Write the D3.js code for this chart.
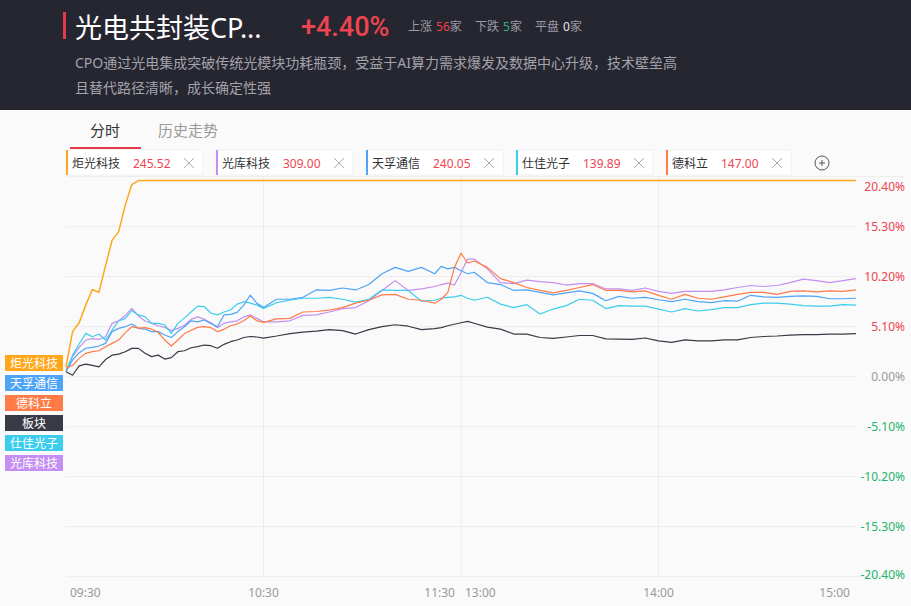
<!DOCTYPE html>
<html>
<head>
<meta charset="utf-8">
<script src="https://cdn.jsdelivr.net/npm/d3@7"></script>
<style>
  body { margin: 0; background: #fafafa; }
  svg { display: block; font-family: "Noto Sans", "Noto Sans CJK SC", sans-serif; }
</style>
</head>
<body>
<div id="chart"></div>
<script>
// trading minutes from 09:30 (0) to 15:00 (240), 11:30 and 13:00 share 120
var minutes = [0, 2, 4, 6, 8, 10, 12, 14, 16, 18, 20, 22, 24, 26, 28, 30, 32, 34, 36, 38, 40,
  42, 44, 46, 48, 50, 52, 54, 56, 58, 60,
  64, 68, 72, 76, 80, 84, 88, 92, 96, 100, 104, 108, 112,
  114, 116, 118, 120, 122, 124,
  128, 132, 136, 140, 144, 148, 152, 156, 160, 164, 168, 172, 176, 180,
  184, 188, 192, 196, 200, 204, 208, 212, 216, 220, 224, 228, 232, 236, 240];

// % change per series
var jgkj = [1.0, 4.6, 5.5, 7.3, 8.9, 8.6, 11.3, 13.9, 14.8, 17.5, 19.6,
  20, 20, 20, 20, 20, 20, 20, 20, 20, 20,
  20, 20, 20, 20, 20, 20, 20, 20, 20, 20,
  20, 20, 20, 20, 20, 20, 20, 20, 20, 20, 20, 20, 20,
  20, 20, 20, 20, 20, 20,
  20, 20, 20, 20, 20, 20, 20, 20, 20, 20, 20, 20, 20, 20,
  20, 20, 20, 20, 20, 20, 20, 20, 20, 20, 20, 20, 20, 20, 20];
var gkkj = [0.5, 2.04, 3.0, 3.74, 3.88, 3.8, 4.08, 5.44, 5.7, 6.22, 6.97,
  6.2, 5.68, 5.44, 5.2, 5.03, 4.7, 4.93, 5.25, 5.85, 6.1,
  5.85, 5.5, 5.0, 5.44, 5.6, 5.7, 6.1, 6.3, 5.95, 5.6,
  5.6, 5.7, 6.25, 6.3, 6.6, 6.95, 7.05, 7.75, 8.8, 9.8, 8.8, 8.95, 9.2,
  9.4, 9.55, 9.35, 10.6, 12.0, 12.0,
  11.0, 9.6, 9.5, 9.85, 9.7, 9.6, 9.35, 9.5, 9.5, 8.95, 8.95, 8.8, 9.05, 8.7,
  8.5, 8.7, 8.7, 8.7, 8.85, 9.1, 9.3, 9.2, 9.3, 9.6, 9.95, 9.8, 9.6, 9.8, 10.0];
var tftx = [0.5, 1.7, 2.45, 2.9, 3.0, 3.13, 3.4, 4.6, 4.93, 5.1, 5.37,
  4.93, 4.86, 4.6, 4.6, 4.25, 4.0, 4.6, 5.1, 5.7, 5.6,
  5.78, 5.44, 5.1, 6.3, 6.36, 6.56, 7.3, 8.33, 7.48, 7.07,
  7.9, 7.9, 8.1, 8.85, 8.8, 9.05, 8.85, 9.4, 10.5, 11.15, 10.75, 11.15, 10.5,
  11.25, 11.0, 11.15, 10.8, 10.5, 10.65,
  9.6, 9.4, 8.8, 8.85, 8.6, 8.35, 8.55, 8.75, 8.5, 7.75, 8.2, 8.0, 8.1, 7.85,
  7.65, 7.9, 7.65, 7.55, 7.75, 7.7, 8.3, 8.15, 8.1, 8.2, 8.25, 8.2, 7.95, 7.95, 8.0];
var sjgz = [0.6, 2.2, 3.33, 4.42, 4.08, 4.35, 3.74, 4.76, 5.68, 5.95, 6.73,
  6.3, 6.12, 5.44, 5.44, 5.27, 4.42, 5.44, 6.0, 6.6, 7.2,
  7.14, 6.5, 6.3, 6.6, 6.8, 7.4, 7.65, 7.5, 7.3, 6.97,
  7.55, 7.8, 8.0, 8.0, 8.1, 7.9, 7.6, 7.9, 8.85, 8.8, 8.8, 7.7, 7.8,
  8.0, 8.1, 8.15, 8.3, 8.0, 7.8,
  8.1, 7.4, 7.05, 7.35, 6.4, 6.9, 7.25, 7.9, 7.8, 6.95, 7.25, 7.2, 7.2, 6.9,
  6.6, 6.95, 6.7, 6.85, 7.05, 7.05, 7.35, 7.5, 7.5, 7.4, 7.25, 7.2, 7.2, 7.35, 7.3];
var dkl = [0.85, 1.16, 1.87, 2.38, 2.55, 2.65, 3.06, 3.4, 3.74, 4.5, 5.1,
  4.96, 5.0, 4.86, 4.52, 3.74, 3.13, 3.74, 4.4, 4.73, 5.03,
  5.1, 5.0, 4.6, 4.83, 5.2, 5.37, 5.7, 6.2, 5.7, 5.54,
  5.9, 5.95, 6.6, 6.65, 6.8, 7.05, 7.5, 7.8, 8.35, 8.4, 7.9, 7.8, 7.5,
  7.9, 8.6, 11.15, 12.6, 11.6, 11.8,
  11.15, 10.0, 9.6, 9.1, 8.8, 8.55, 8.8, 9.1, 9.4, 8.8, 8.8, 8.65, 8.75, 8.3,
  7.9, 8.4, 8.0, 7.9, 8.15, 8.4, 8.6, 8.6, 8.4, 8.7, 8.75, 8.65, 8.75, 8.7, 8.85];
var bankuai = [0.5, 0.15, 1.1, 1.29, 1.15, 1.0, 1.75, 2.2, 2.3, 2.55, 2.89,
  2.89, 2.4, 2.05, 2.2, 1.8, 1.95, 2.55, 2.65, 2.95, 3.06,
  3.23, 3.16, 2.9, 3.3, 3.57, 3.74, 4.0, 4.1, 4.05, 3.94,
  4.15, 4.4, 4.55, 4.65, 4.8, 4.7, 4.35, 4.8, 5.1, 5.3, 5.15, 4.8, 4.9,
  5.0, 5.2, 5.35, 5.5, 5.65, 5.45,
  5.05, 4.85, 4.35, 4.35, 4.0, 3.9, 4.05, 4.2, 4.2, 3.85, 3.84, 3.8, 3.95, 3.65,
  3.5, 3.75, 3.65, 3.65, 3.75, 3.75, 4.0, 4.1, 4.15, 4.25, 4.3, 4.3, 4.35, 4.35, 4.4];

var stockNames = ["炬光科技", "光库科技", "天孚通信", "仕佳光子", "德科立"];
var stockPrices = ["245.52", "309.00", "240.05", "139.89", "147.00"];
var sideNames = ["炬光科技", "天孚通信", "德科立", "板块", "仕佳光子", "光库科技"];
var yTicks = [20.4, 15.3, 10.2, 5.1, 0, -5.1, -10.2, -15.3, -20.4];
var xTickMinutes = [0, 60, 120, 120, 180, 240];
var xTickLabels = ["09:30", "10:30", "11:30", "13:00", "14:00", "15:00"];
var statLabels = ["上涨", "下跌", "平盘"];
var statCounts = ["56", "5", "0"];

var colors = {
  "炬光科技": "#ffa61a", "光库科技": "#c48ef2", "天孚通信": "#4ea4f6",
  "仕佳光子": "#3dcdec", "德科立": "#ff7b48", "板块": "#383b46"
};
var seriesValues = {
  "炬光科技": jgkj, "光库科技": gkkj, "天孚通信": tftx,
  "仕佳光子": sjgz, "德科立": dkl, "板块": bankuai
};
var drawOrder = ["炬光科技", "光库科技", "天孚通信", "仕佳光子", "德科立", "板块"];

var width = 911, height = 606;
var red = "#ee4450", green = "#1db46c";

var svg = d3.select("#chart").append("svg")
  .attr("width", width)
  .attr("height", height);

// header
svg.append("rect").attr("width", width).attr("height", 110).attr("fill", "#262630");
svg.append("rect").attr("x", 63).attr("y", 12).attr("width", 3).attr("height", 27).attr("fill", "#e8394a");
svg.append("text").attr("x", 75).attr("y", 27).attr("dominant-baseline", "central")
  .attr("fill", "#fff").attr("font-size", 27).text("光电共封装CP...");
svg.append("text").attr("x", 301).attr("y", 27).attr("dominant-baseline", "central")
  .attr("fill", red).attr("font-size", 27).attr("font-family", "Roboto").attr("font-weight", 500)
  .text("+4.40%");

var statColors = ["#f0404a", "#2bb673", "#e6e6ea"];
var sx = 408;
statLabels.forEach(function(lab, i) {
  var t = svg.append("text").attr("x", sx).attr("y", 26).attr("dominant-baseline", "central")
    .attr("font-size", 12).attr("fill", "#9a9aa4");
  t.append("tspan").text(lab);
  t.append("tspan").attr("dx", 4).attr("fill", statColors[i]).text(statCounts[i]);
  t.append("tspan").text("家");
  sx += 28 + statCounts[i].length * 7 + 12 + 13;
});

svg.append("text").attr("x", 75).attr("y", 62).attr("dominant-baseline", "central")
  .attr("font-size", 14).attr("fill", "#a3a3ac")
  .text("CPO通过光电集成突破传统光模块功耗瓶颈，受益于AI算力需求爆发及数据中心升级，技术壁垒高");
svg.append("text").attr("x", 75).attr("y", 87).attr("dominant-baseline", "central")
  .attr("font-size", 14).attr("fill", "#a3a3ac")
  .text("且替代路径清晰，成长确定性强");

// tabs
svg.append("text").attr("x", 105).attr("y", 130).attr("text-anchor", "middle").attr("dominant-baseline", "central")
  .attr("font-size", 15).attr("fill", "#333").text("分时");
svg.append("text").attr("x", 188).attr("y", 130).attr("text-anchor", "middle").attr("dominant-baseline", "central")
  .attr("font-size", 15).attr("fill", "#999").text("历史走势");
svg.append("rect").attr("x", 70).attr("y", 147).attr("width", 71).attr("height", 2).attr("fill", "#e8394a");

// legend chips
var lx = 66;
stockNames.forEach(function(name, i) {
  var w = name.length * 12 + 89;
  var g = svg.append("g").attr("transform", "translate(" + lx + ",150)");
  g.append("rect").attr("width", w).attr("height", 25).attr("fill", "#fff").attr("stroke", "#f0f0f0");
  g.append("rect").attr("width", 2).attr("height", 25).attr("fill", colors[name]);
  g.append("text").attr("x", 6).attr("y", 13).attr("dominant-baseline", "central")
    .attr("font-size", 12).attr("fill", "#333").text(name);
  g.append("text").attr("x", 6 + name.length * 12 + 13).attr("y", 13).attr("dominant-baseline", "central")
    .attr("font-size", 12).attr("fill", red).text(stockPrices[i]);
  var cx = w - 14, cy = 13;
  g.append("path").attr("d", "M" + (cx - 5) + "," + (cy - 5) + "L" + (cx + 5) + "," + (cy + 5) +
      "M" + (cx + 5) + "," + (cy - 5) + "L" + (cx - 5) + "," + (cy + 5))
    .attr("stroke", "#aaa").attr("stroke-width", 1);
  lx += w + 13;
});
var plus = svg.append("g").attr("transform", "translate(" + (lx + 18) + ",163)");
plus.append("circle").attr("r", 7).attr("fill", "none").attr("stroke", "#555");
plus.append("path").attr("d", "M-3,0L3,0M0,-3L0,3").attr("stroke", "#555");

// scales
var x = d3.scaleLinear().domain([0, 240]).range([66, 856]);
var y = d3.scaleLinear().domain([-20.4, 20.4]).range([576.7, 176.7]);

// grid
svg.append("g").selectAll("line").data(yTicks).enter().append("line")
  .attr("x1", x(0))
  .attr("x2", function(d) { return Math.abs(d) === 20.4 ? 905 : x(240); })
  .attr("y1", function(d) { return y(d); })
  .attr("y2", function(d) { return y(d); })
  .attr("stroke", "#ececec");
svg.append("g").selectAll("line").data([60, 120, 180]).enter().append("line")
  .attr("x1", function(d) { return x(d); })
  .attr("x2", function(d) { return x(d); })
  .attr("y1", y(20.4)).attr("y2", y(-20.4))
  .attr("stroke", "#ececec");

// right axis labels
var yAxis = svg.append("g").attr("transform", "translate(905,0)")
  .call(d3.axisLeft(y).tickValues(yTicks).tickSize(0).tickPadding(0)
    .tickFormat(function(d) { return d.toFixed(2) + "%"; }));
yAxis.select(".domain").remove();
yAxis.selectAll("text")
  .attr("font-family", "Noto Sans")
  .attr("font-size", 12)
  .attr("fill", function(d) { return d > 0 ? red : d < 0 ? green : "#999"; })
  .attr("y", function(d) { return d === 20.4 ? 10 : d === -20.4 ? -2 : 0; });

// time labels
svg.append("g").selectAll("text").data(xTickLabels).enter().append("text")
  .attr("x", function(d, i) {
    var px = x(xTickMinutes[i]);
    if (i === 0 || i === 3) return px + 4;
    if (i === 2 || i === 5) return px - 6;
    return px;
  })
  .attr("y", 592)
  .attr("dominant-baseline", "central")
  .attr("text-anchor", function(d, i) {
    if (i === 0 || i === 3) return "start";
    if (i === 2 || i === 5) return "end";
    return "middle";
  })
  .attr("font-size", 12).attr("fill", "#999")
  .text(function(d) { return d; });

// lines
var line = d3.line()
  .x(function(d, i) { return x(minutes[i]); })
  .y(function(d) { return y(d); });

svg.append("g").selectAll("path").data(drawOrder).enter().append("path")
  .attr("d", function(d) { return line(seriesValues[d]); })
  .attr("fill", "none")
  .attr("stroke", function(d) { return colors[d]; })
  .attr("stroke-width", function(d) { return d === "炬光科技" ? 1.5 : 1.2; })
  .attr("stroke-linejoin", "round");

// left side tags
var tags = svg.append("g").selectAll("g").data(sideNames).enter().append("g")
  .attr("transform", function(d, i) { return "translate(5," + (355 + i * 20) + ")"; });
tags.append("rect").attr("width", 58).attr("height", 16)
  .attr("fill", function(d) { return colors[d]; });
tags.append("text").attr("x", 29).attr("y", 8.5)
  .attr("text-anchor", "middle").attr("dominant-baseline", "central")
  .attr("font-size", 12).attr("fill", "#fff")
  .text(function(d) { return d; });
</script>
</body>
</html>
